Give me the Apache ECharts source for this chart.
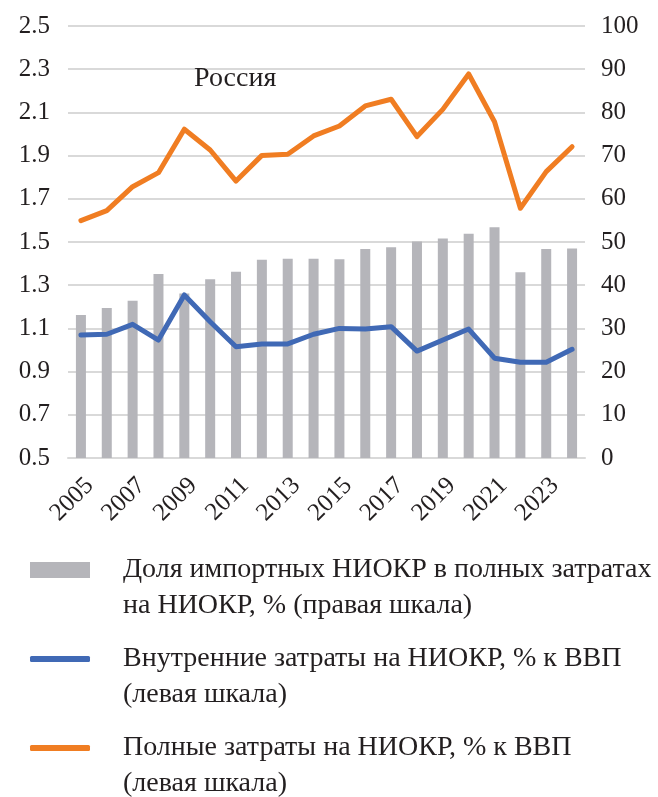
<!DOCTYPE html>
<html>
<head>
<meta charset="utf-8">
<script src="https://cdn.jsdelivr.net/npm/echarts@6/dist/echarts.min.js"></script>
<style>html,body{margin:0;padding:0;background:#fff;font-family:'Liberation Serif',serif;}#c{width:658px;height:797px;}</style>
</head>
<body>
<div id="c"></div>
<script>
const years = ['2005','2006','2007','2008','2009','2010','2011','2012','2013','2014','2015','2016','2017','2018','2019','2020','2021','2022','2023','2024'];
const importShare = [33.1,34.7,36.4,42.6,38.1,41.4,43.1,45.9,46.1,46.1,46.0,48.4,48.8,50.1,50.8,51.9,53.4,43.0,48.4,48.5];
const domesticRD = [1.069,1.073,1.119,1.046,1.255,1.131,1.015,1.028,1.028,1.073,1.100,1.097,1.108,0.995,1.046,1.097,0.962,0.943,0.943,1.003];
const totalRD = [1.599,1.645,1.756,1.821,2.022,1.926,1.782,1.901,1.906,1.991,2.037,2.130,2.161,1.988,2.114,2.278,2.057,1.656,1.826,1.941];
const leftTicks = {min:0.5, max:2.5, interval:0.2};
const rightTicks = {min:0, max:100, interval:10};
const nameImport = 'Доля импортных НИОКР в полных затратах\nна НИОКР, % (правая шкала)';
const nameDomestic = 'Внутренние затраты на НИОКР, % к ВВП\n(левая шкала)';
const nameTotal = 'Полные затраты на НИОКР, % к ВВП\n(левая шкала)';
const titleText = 'Россия';

const FONT = "'Liberation Serif', serif";
const TXT = '#231f20';
const chart = echarts.init(document.getElementById('c'), null, {renderer:'canvas'});
const legendText = {fontFamily: FONT, fontSize: 28, color: TXT, lineHeight: 36, padding:[0,0,0,28]};
function mkLegend(name, top, icon, h){
  return {
    data:[{name:name, icon:icon}],
    left: 25, top: top, orient:'vertical',
    itemWidth: 60, itemHeight: h, itemGap: 0,
    textStyle: legendText,
    formatter: n => '\n' + n,
    selectedMode: false
  };
}
chart.setOption({
  animation:false,
  textStyle:{fontFamily: FONT},
  title:{text:titleText, left:189, top:60, textStyle:{fontFamily:FONT, fontSize:28, fontWeight:'normal', color:TXT}},
  grid:{left:68, right:73, top:26, bottom:339},
  legend:[
    mkLegend(nameImport, 511, 'rect', 16),
    mkLegend(nameDomestic, 600, 'roundRect', 6),
    mkLegend(nameTotal, 689, 'roundRect', 6)
  ],
  xAxis:{type:'category', data:years, boundaryGap:true,
    axisLine:{lineStyle:{color:'#d9d9d9', width:2}}, axisTick:{show:false},
    axisLabel:{interval:1, rotate:45, fontFamily:FONT, fontSize:25, color:TXT, margin:15, verticalAlign:'top'}},
  yAxis:[
    {type:'value', min:leftTicks.min, max:leftTicks.max, interval:leftTicks.interval,
     axisLabel:{formatter:v=>v.toFixed(1), fontFamily:FONT, fontSize:25, color:TXT, margin:18},
     splitLine:{lineStyle:{color:'#d9d9d9', width:2}}, axisLine:{show:false}, axisTick:{show:false}},
    {type:'value', min:rightTicks.min, max:rightTicks.max, interval:rightTicks.interval, position:'right',
     axisLabel:{fontFamily:FONT, fontSize:25, color:TXT, margin:16},
     splitLine:{show:false}, axisLine:{show:false}, axisTick:{show:false}}
  ],
  series:[
    {name:nameImport, type:'bar', yAxisIndex:1, data:importShare, barWidth:10,
     itemStyle:{color:'#b5b5ba'}},
    {name:nameDomestic, type:'line', yAxisIndex:0, data:domesticRD, symbol:'none',
     lineStyle:{color:'#4069b5', width:5, cap:'round', join:'round'}, itemStyle:{color:'#4069b5'}},
    {name:nameTotal, type:'line', yAxisIndex:0, data:totalRD, symbol:'none',
     lineStyle:{color:'#f07d22', width:5, cap:'round', join:'round'}, itemStyle:{color:'#f07d22'}}
  ]
});
</script>
</body>
</html>
